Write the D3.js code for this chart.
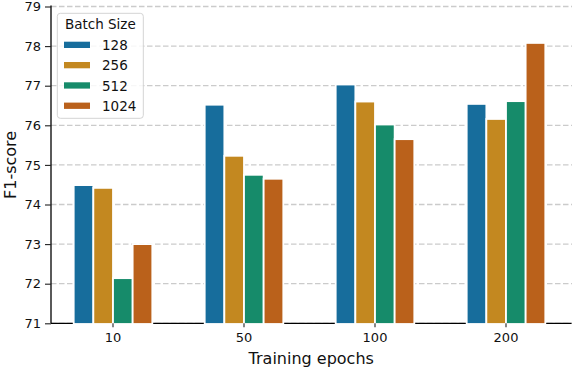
<!DOCTYPE html>
<html>
<head>
<meta charset="utf-8">
<script src="https://cdn.jsdelivr.net/npm/d3@7"></script>
<style>
  body { margin: 0; background: #fff; }
  svg { display: block; font-family: "DejaVu Sans", sans-serif; }
</style>
</head>
<body>
<div id="chart"></div>
<script>
// chart values
var epochs = ["10", "50", "100", "200"];
var batchSizes = ["128", "256", "512", "1024"];
var f1_128 = [74.49, 76.52, 77.03, 76.54];
var f1_256 = [74.42, 75.23, 76.60, 76.16];
var f1_512 = [72.14, 74.75, 76.02, 76.61];
var f1_1024 = [73.00, 74.65, 75.65, 78.08];
var yTicks = [71, 72, 73, 74, 75, 76, 77, 78, 79];
var colors = ["#176d9c", "#c38820", "#168b6a", "#ba611b"];

var draw = function(){
  var series = [f1_128, f1_256, f1_512, f1_1024];

  var w = 572, h = 368;
  var plotLeft = 51, plotTop = 6.5, plotBottom = 323.3;

  var svg = d3.select("#chart").append("svg")
    .attr("width", w)
    .attr("height", h);

  var x = d3.scaleBand()
    .domain(epochs)
    .range([47.5, 571.5]);

  var bw = x.bandwidth();
  var xInner = d3.scaleBand()
    .domain(batchSizes)
    .range([bw * 0.2, bw * 0.8]);

  var y = d3.scaleLinear()
    .domain([71, 79])
    .range([plotBottom, plotTop]);

  // grid
  svg.append("g")
    .selectAll("line")
    .data(yTicks)
    .enter()
    .append("line")
    .attr("x1", plotLeft)
    .attr("x2", w)
    .attr("y1", function(d){ return y(d); })
    .attr("y2", function(d){ return y(d); })
    .attr("stroke", "#cbcbcb")
    .attr("stroke-width", 1.3)
    .attr("stroke-dasharray", "5.5,2.5");

  // bottom spine (under the bars)
  svg.append("line")
    .attr("x1", plotLeft).attr("x2", 571.5)
    .attr("y1", plotBottom).attr("y2", plotBottom)
    .attr("stroke", "#000").attr("stroke-width", 1.3);

  // bars
  var rows = [];
  series.forEach(function(vals, s){
    vals.forEach(function(v, i){
      rows.push({ epoch: epochs[i], batch: batchSizes[s], value: v, s: s });
    });
  });

  svg.append("g")
    .selectAll("rect")
    .data(rows)
    .enter()
    .append("rect")
    .attr("x", function(d){ return x(d.epoch) + xInner(d.batch); })
    .attr("y", function(d){ return y(d.value); })
    .attr("width", xInner.bandwidth())
    .attr("height", function(d){ return plotBottom - y(d.value) + 0.7; })
    .attr("fill", function(d){ return colors[d.s]; })
    .attr("stroke", "#fff")
    .attr("stroke-width", 1.8);

  // y axis
  var yAxis = d3.axisLeft(y)
    .tickValues(yTicks)
    .tickSize(6)
    .tickPadding(4)
    .tickFormat(d3.format("d"));

  var gy = svg.append("g")
    .attr("transform", "translate(" + plotLeft + ",0)")
    .call(yAxis);
  gy.attr("font-size", 13).attr("font-family", "DejaVu Sans");
  gy.select(".domain").attr("d", "M0," + (plotTop - 1) + "V" + plotBottom)
    .attr("stroke", "#000").attr("stroke-width", 1.3);
  gy.selectAll(".tick line").attr("stroke", "#222").attr("stroke-width", 1.1);
  gy.selectAll(".tick text").attr("fill", "#111");

  // x axis
  var xAxis = d3.axisBottom(x).tickSize(4).tickPadding(5);
  var gx = svg.append("g")
    .attr("transform", "translate(0," + plotBottom + ")")
    .call(xAxis);
  gx.attr("font-size", 13).attr("font-family", "DejaVu Sans");
  gx.select(".domain").remove();
  gx.selectAll(".tick line").attr("stroke", "#222").attr("stroke-width", 1.1);
  gx.selectAll(".tick text").attr("fill", "#111");

  // axis labels
  svg.append("text")
    .text("Training epochs")
    .attr("x", (plotLeft + 571.5) / 2)
    .attr("y", 364)
    .attr("text-anchor", "middle")
    .attr("font-size", 16)
    .attr("fill", "#111");

  svg.append("text")
    .text("F1-score")
    .attr("transform", "translate(15.5," + ((plotTop + plotBottom) / 2) + ") rotate(-90)")
    .attr("text-anchor", "middle")
    .attr("font-size", 16)
    .attr("fill", "#111");

  // legend
  var lg = svg.append("g");
  lg.append("rect")
    .attr("x", 57.3).attr("y", 13.3)
    .attr("width", 86).attr("height", 105)
    .attr("rx", 3)
    .attr("fill", "#fff").attr("fill-opacity", 0.85)
    .attr("stroke", "#d4d4d4").attr("stroke-width", 1);
  lg.append("text")
    .text("Batch Size")
    .attr("x", 100.3).attr("y", 28.5)
    .attr("text-anchor", "middle")
    .attr("font-size", 13.5)
    .attr("fill", "#111");

  var items = lg.selectAll("g.item")
    .data(batchSizes)
    .enter()
    .append("g")
    .attr("class", "item")
    .attr("transform", function(d, i){ return "translate(0," + (44.7 + i * 20.3) + ")"; });
  items.append("rect")
    .attr("x", 64).attr("y", -3)
    .attr("width", 26).attr("height", 6.3)
    .attr("fill", function(d, i){ return colors[i]; });
  items.append("text")
    .text(function(d){ return d; })
    .attr("x", 102).attr("y", 5.2)
    .attr("font-size", 13.5)
    .attr("fill", "#111");
};
draw();
</script>
</body>
</html>
